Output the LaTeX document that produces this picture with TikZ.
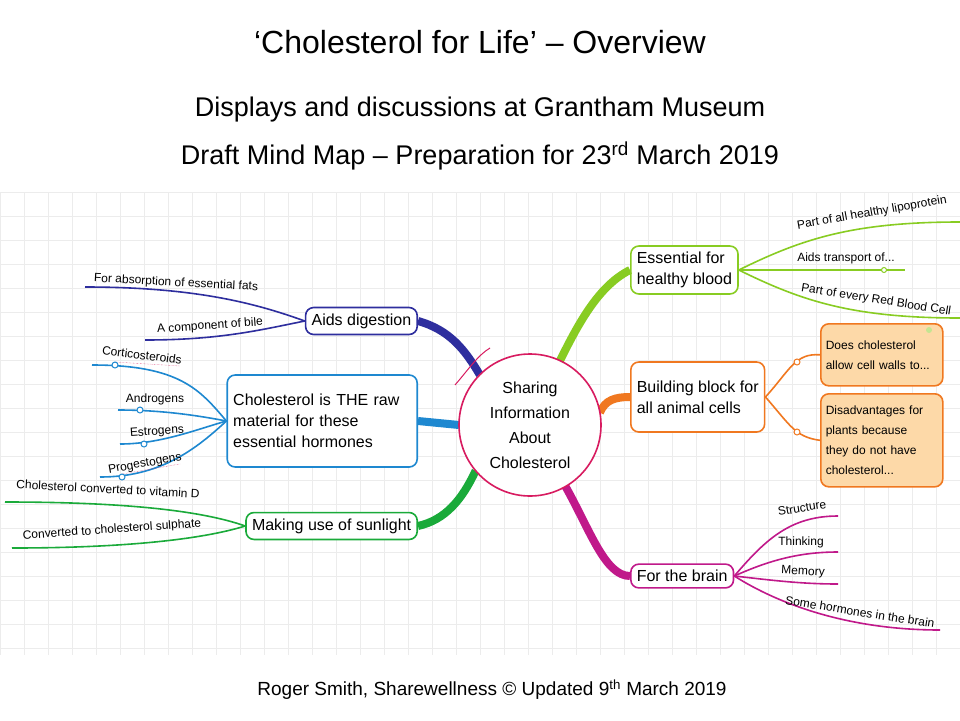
\documentclass[tikz,border=0pt]{standalone}
\usepackage{fontspec}
\usetikzlibrary{calc}
\setmainfont{Liberation Sans}
\begin{document}
\begin{tikzpicture}[x=1pt,y=-1pt,
 box/.style={draw=#1,line width=1.6pt,rounded corners=8pt,fill=white,inner sep=6pt,align=left,font=\fontsize{16}{21}\selectfont},
 leaf/.style={font=\fontsize{12}{14}\selectfont,inner sep=1pt},
 br/.style={draw=#1,line width=8pt},
 lf/.style={draw=#1,line width=1.6pt},
 pl/.style={circle,draw=#1,fill=white,line width=1pt,inner sep=0pt,minimum size=6pt}]
\definecolor{navy}{HTML}{2E2E9E}\definecolor{hblue}{HTML}{1E88D0}
\definecolor{sgreen}{HTML}{1AAA3A}\definecolor{ygreen}{HTML}{88CC22}
\definecolor{orng}{HTML}{F07820}\definecolor{peach}{HTML}{FDD9A8}
\definecolor{mag}{HTML}{C0198A}\definecolor{pink}{HTML}{D81B60}
\useasboundingbox (0,0) rectangle (960,720);
\fill[white] (0,0) rectangle (960,720);
\foreach \x in {0,24,...,960} \draw[gray!15] (\x,192)--(\x,655);
\foreach \y in {192,216,...,655} \draw[gray!15] (0,\y)--(960,\y);
% titles
\node (t1) at (480,42) {\fontsize{32}{36}\selectfont ‘Cholesterol for Life’ – Overview};
\node (t2) at (480,110) {\fontsize{27}{30}\selectfont Displays and discussions at Grantham Museum};
\node (t3) at (480,156) {\fontsize{27}{30}\selectfont Draft Mind Map – Preparation for 23\textsuperscript{rd} March 2019};
\node (ft) at (492,690) {\fontsize{19}{22}\selectfont Roger Smith, Sharewellness © Updated 9\textsuperscript{th} March 2019};
% nodes
\node[box=navy,anchor=east] (dig) at (418,321) {Aids digestion};
\node[box=hblue,anchor=east,minimum height=92pt,text width=178pt] (hor) at (418,421) {Cholesterol is THE raw\\material for these\\essential hormones};
\node[box=sgreen,anchor=east] (sun) at (418,526) {Making use of sunlight};
\node[box=ygreen,anchor=west] (blood) at (630,270) {Essential for\\healthy blood};
\node[box=orng,anchor=west,minimum height=70pt] (bb) at (630,397) {Building block for\\all animal cells};
\node[box=mag,anchor=west] (brain) at (630,576) {For the brain};
\node[box=orng,fill=peach,anchor=north west,font=\fontsize{12}{20}\selectfont,text width=112pt,minimum height=62pt,inner sep=5pt] (d1) at (820,323) {Does cholesterol\\allow cell walls to...};
\node[box=orng,fill=peach,anchor=north west,font=\fontsize{12}{20}\selectfont,text width=112pt,minimum height=93pt,inner sep=5pt] (d2) at (820,393) {Disadvantages for\\plants because\\they do not have\\cholesterol...};
\coordinate (cc) at (530,425);
% main branches
\draw[br=navy] (dig.east) .. controls (450,330) and (465,350) .. ($(cc)+(-135:71)$);
\draw[br=hblue] (hor.east) -- ($(cc)+(180:71)$);
\draw[br=sgreen] (sun.east) .. controls (445,520) and (462,500) .. ($(cc)+(-220:71)$);
\draw[br=ygreen] (blood.west) .. controls (600,285) and (580,320) .. ($(cc)+(-65:71)$);
\draw[br=orng] (bb.west) .. controls (615,397) and (605,400) .. ($(cc)+(-10:71)$);
\draw[br=mag] (brain.west) .. controls (605,576) and (590,530) .. ($(cc)+(60:71)$);
\node[circle,draw=pink,line width=1.6pt,fill=white,minimum size=142pt,align=center,font=\fontsize{16}{25}\selectfont] (c) at (cc) {Sharing\\Information\\About\\Cholesterol};
\draw[pink,line width=1pt] (455,385) .. controls (468,370) and (478,355) .. (490,348);
% left leaves
\coordinate (l1) at (85,287); \coordinate (l2) at (145,340);
\draw[lf=navy] (dig.west) .. controls (260,305) and (200,287) .. (l1);
\draw[lf=navy] (dig.west) .. controls (260,330) and (220,340) .. (l2);
\node[leaf,rotate=-3] at (176,283) {For absorption of essential fats};
\node[leaf,rotate=4] at (210,326) {A component of bile};
\coordinate (h1) at (92,365); \coordinate (h2) at (118,410); \coordinate (h3) at (120,444); \coordinate (h4) at (100,477);
\draw[lf=hblue] (hor.west) .. controls (200,390) and (180,365) .. (h1);
\draw[lf=hblue] (hor.west) .. controls (195,415) and (160,410) .. (h2);
\draw[lf=hblue] (hor.west) .. controls (195,430) and (160,444) .. (h3);
\draw[lf=hblue] (hor.west) .. controls (195,450) and (160,477) .. (h4);
\draw[pink,densely dotted] (115,362) -- (180,366); \draw[pink,densely dotted] (122,474) -- (180,464);
\node[pl=hblue] at (115,365) {}; \node[pl=hblue] at (140,410) {}; \node[pl=hblue] at (144,444) {}; \node[pl=hblue] at (122,477) {};
\node[leaf,rotate=-7] at (142,355) {Corticosteroids};
\node[leaf] at (155,399) {Androgens};
\node[leaf,rotate=4] at (157,432) {Estrogens};
\node[leaf,rotate=10] at (145,464) {Progestogens};
\coordinate (s1) at (5,502); \coordinate (s2) at (12,548);
\draw[lf=sgreen] (sun.west) .. controls (200,510) and (120,502) .. (s1);
\draw[lf=sgreen] (sun.west) .. controls (200,540) and (120,548) .. (s2);
\node[leaf,rotate=-3] at (108,489) {Cholesterol converted to vitamin D};
\node[leaf,rotate=4] at (112,530) {Converted to cholesterol sulphate};
% right leaves
\coordinate (r1) at (960,222); \coordinate (r2) at (905,270); \coordinate (r3) at (960,318);
\draw[lf=ygreen] (blood.east) .. controls (800,240) and (850,222) .. (r1);
\draw[lf=ygreen] (blood.east) -- (r2);
\draw[lf=ygreen] (blood.east) .. controls (800,300) and (850,318) .. (r3);
\node[pl=ygreen,minimum size=5pt] at (884,270) {};
\node[leaf,rotate=10] at (872,213) {Part of all healthy lipoprotein};
\node[leaf] at (846,258) {Aids transport of...};
\node[leaf,rotate=-9] at (876,300) {Part of every Red Blood Cell};
\fill[ygreen!50] (929,330) circle (3pt);
\draw[lf=orng] (bb.east) .. controls (790,370) and (795,353) .. (d1.west);
\draw[lf=orng] (bb.east) .. controls (790,425) and (795,437) .. (d2.west);
\node[pl=orng] at (797,362) {}; \node[pl=orng] at (797,432) {};
\coordinate (b1) at (838,516); \coordinate (b2) at (838,552); \coordinate (b3) at (838,584); \coordinate (b4) at (940,630);
\draw[lf=mag] (brain.east) .. controls (765,540) and (790,516) .. (b1);
\draw[lf=mag] (brain.east) .. controls (770,560) and (800,552) .. (b2);
\draw[lf=mag] (brain.east) .. controls (770,580) and (800,584) .. (b3);
\draw[lf=mag] (brain.east) .. controls (780,605) and (850,630) .. (b4);
\node[leaf,rotate=9] at (802,508) {Structure};
\node[leaf] at (801,542) {Thinking};
\node[leaf,rotate=-3] at (803,572) {Memory};
\node[leaf,rotate=-9] at (860,612) {Some hormones in the brain};
\end{tikzpicture}
\end{document}
